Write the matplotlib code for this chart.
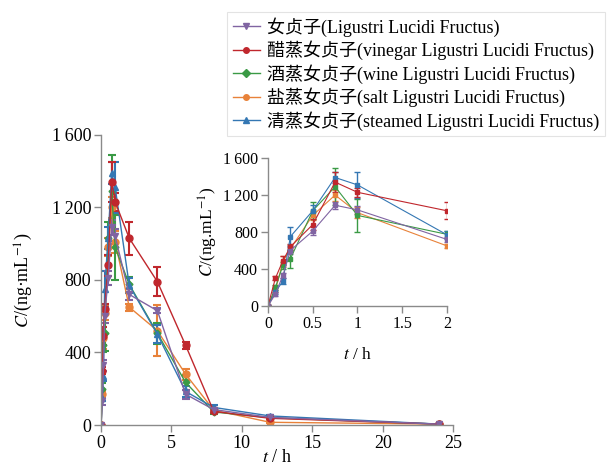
import matplotlib
matplotlib.use('Agg')
from matplotlib import pyplot as plt
from matplotlib.lines import Line2D
from matplotlib.ticker import FuncFormatter

plt.rcParams['font.family'] = ['Liberation Serif', 'Noto Sans CJK SC']
plt.rcParams['mathtext.fontset'] = 'stix'

# Sampling times (h)
t = [0, 0.083, 0.167, 0.25, 0.5, 0.75, 1, 2, 4, 6, 8, 12, 24]

labels = ['女贞子(Ligustri Lucidi Fructus)',
          '醋蒸女贞子(vinegar Ligustri Lucidi Fructus)',
          '酒蒸女贞子(wine Ligustri Lucidi Fructus)',
          '盐蒸女贞子(salt Ligustri Lucidi Fructus)',
          '清蒸女贞子(steamed Ligustri Lucidi Fructus)']

raw = [0, 130, 330, 600, 810, 1090, 1040, 720, 630, 170, 85, 42, 5]
raw_sd = [0, 20, 30, 40, 40, 40, 40, 30, 15, 25, 10, 5, 2]
vinegar = [0, 300, 490, 640, 880, 1340, 1230, 1030, 790, 440, 75, 37, 5]
vinegar_sd = [0, 20, 50, 30, 60, 110, 50, 90, 80, 20, 10, 5, 2]
wine = [0, 200, 440, 510, 1030, 1290, 980, 775, 505, 235, 72, 40, 5]
wine_sd = [0, 30, 40, 100, 90, 200, 180, 40, 60, 40, 10, 5, 2]
salt = [0, 170, 480, 620, 980, 1200, 1010, 650, 520, 280, 82, 15, 5]
salt_sd = [0, 20, 60, 40, 50, 60, 60, 20, 140, 30, 10, 5, 2]
steamed = [0, 150, 270, 750, 1030, 1390, 1310, 770, 500, 185, 97, 50, 5]
steamed_sd = [0, 20, 30, 100, 60, 60, 140, 40, 50, 30, 15, 5, 2]

series = [raw, vinegar, wine, salt, steamed]
errors = [raw_sd, vinegar_sd, wine_sd, salt_sd, steamed_sd]
colours = ['#8064a2', '#c0272d', '#3a9a45', '#e8823a', '#3477b3']
markers = ['v', 'o', 'D', 'o', '^']
msizes = [5, 5, 3.5, 5, 5]
draw_order = [3, 2, 4, 1, 0]

spine_col = '#8a8a8a'


def thousands(v, pos):
    v = int(v)
    if v >= 1000:
        return '%d\u2009%03d' % (v // 1000, v % 1000)
    return str(v)


def style_axes(ax, size):
    for s in ['top', 'right']:
        ax.spines[s].set_visible(False)
    for s in ['left', 'bottom']:
        ax.spines[s].set_color(spine_col)
        ax.spines[s].set_linewidth(1.0)
    ax.tick_params(direction='out', color=spine_col, length=5, width=1,
                   labelsize=size, pad=2)
    ax.yaxis.set_major_formatter(FuncFormatter(thousands))


fig = plt.figure(figsize=(6.09, 4.65), dpi=100)

# Main axes
ax = fig.add_axes([0.166, 0.086, 0.578, 0.624])
for i in draw_order:
    ax.errorbar(t, series[i], yerr=errors[i], color=colours[i], marker=markers[i],
                markersize=msizes[i], linewidth=1.0, elinewidth=1.5, capsize=3,
                capthick=1.5)
ax.set_xlim(0, 25)
ax.set_ylim(0, 1600)
ax.set_xticks([0, 5, 10, 15, 20, 25])
ax.set_yticks([0, 400, 800, 1200, 1600])
style_axes(ax, 13)
ax.set_xlabel('$t$ / h', fontsize=13, labelpad=-2)
ax.set_ylabel('$C$/(ng·mL$^{-1}$)', fontsize=13, labelpad=12)

# Inset: first 2 h
axin = fig.add_axes([0.440, 0.342, 0.294, 0.318])
n = 8
for i in draw_order:
    axin.errorbar(t[:n], series[i][:n], yerr=errors[i][:n], color=colours[i],
                  marker='s', markersize=2.5, linewidth=0.8, elinewidth=1.0,
                  capsize=2, capthick=1.0)
axin.set_xlim(0, 2)
axin.set_ylim(0, 1600)
axin.set_xticks([0, 0.5, 1, 1.5, 2])
axin.set_xticklabels(['0', '0.5', '1', '1.5', '2'])
axin.set_yticks([0, 400, 800, 1200, 1600])
style_axes(axin, 11.5)
axin.set_xlabel('$t$ / h', fontsize=12.5, labelpad=11)
axin.set_ylabel('$C$/(ng.mL$^{-1}$)', fontsize=12.5, labelpad=2)

# Legend (line + marker only)
handles = [Line2D([], [], color=colours[i], marker=markers[i], markersize=4,
                  linewidth=1.0) for i in range(5)]
leg = fig.legend(handles, labels,
                 loc='upper left', bbox_to_anchor=(0.373, 0.975),
                 fontsize=13, frameon=True, handlelength=1.5,
                 handletextpad=0.4, labelspacing=0.22, borderaxespad=0,
                 borderpad=0.3, fancybox=False)
leg.get_frame().set_edgecolor('#dddddd')
leg.get_frame().set_linewidth(0.8)

fig.savefig('out.png', dpi=100)
